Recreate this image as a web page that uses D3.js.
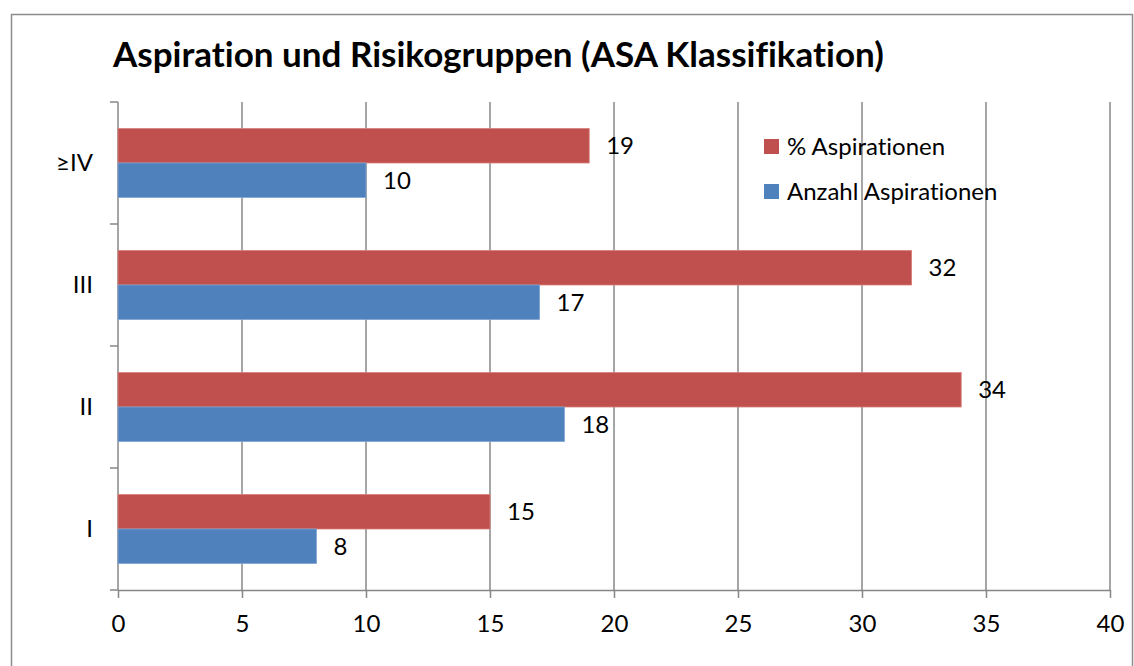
<!DOCTYPE html>
<html>
<head>
<meta charset="utf-8">
<script src="https://cdn.jsdelivr.net/npm/d3@7"></script>
<style>
  body { margin: 0; background: #fff; }
  svg { display: block; font-family: Lato, "Open Sans", sans-serif; font-variant-ligatures: none; }
</style>
</head>
<body>
<svg id="chart" width="1134" height="666"></svg>
<script>
// data, bottom to top as in the picture
const categories = ["I", "II", "III", "≥IV"];
const pctValues = [15, 34, 32, 19];   // % Aspirationen
const countValues = [8, 18, 17, 10];  // Anzahl Aspirationen
const seriesNames = ["% Aspirationen", "Anzahl Aspirationen"];
const xTicks = [0, 5, 10, 15, 20, 25, 30, 35, 40];

const colors = { "% Aspirationen": "#C0504D", "Anzahl Aspirationen": "#4F81BD" };
const edge = { "% Aspirationen": "#d87e7b", "Anzahl Aspirationen": "#7ea3d1" };
const gridColor = "#878787";
const fontSize = 24;

const svg = d3.select("#chart");
const plot = { left: 118, right: 1110, top: 102, bottom: 590 };

// chart border
svg.append("rect")
  .attr("x", 11.5).attr("y", 14.5)
  .attr("width", 1121).attr("height", 700)
  .attr("fill", "none").attr("stroke", "#8c8c8c").attr("stroke-width", 1.5);

svg.append("text")
  .attr("x", 113).attr("y", 67)
  .attr("font-size", 35).attr("font-weight", "bold")
  .attr("fill", "#000")
  .text("Aspiration und Risikogruppen (ASA Klassifikation)");

const x = d3.scaleLinear().domain([0, 40]).range([plot.left, plot.right]);
// categories from top: reverse
const y = d3.scaleBand().domain(categories.slice().reverse())
  .range([plot.top, plot.bottom]).padding(0);
const ySub = d3.scaleBand().domain(seriesNames)
  .range([0, y.bandwidth()]).paddingInner(0).paddingOuter(0.77);

// vertical grid lines
svg.append("g").selectAll("line")
  .data(xTicks.filter(d => d > 0))
  .join("line")
  .attr("x1", d => x(d)).attr("x2", d => x(d))
  .attr("y1", plot.top).attr("y2", plot.bottom)
  .attr("stroke", gridColor).attr("stroke-width", 1.5);

// bottom axis
const xAxis = svg.append("g")
  .attr("transform", `translate(0,${plot.bottom})`)
  .call(d3.axisBottom(x).tickValues(xTicks).tickSize(8).tickPadding(17).tickSizeOuter(0));
xAxis.select(".domain").attr("stroke", gridColor).attr("stroke-width", 1.5);
xAxis.selectAll(".tick line").attr("stroke", gridColor).attr("stroke-width", 1.5);
xAxis.selectAll("text").attr("font-size", fontSize).attr("fill", "#000")
  .attr("font-family", "Lato, 'Open Sans', sans-serif");

// left axis line + ticks at band boundaries
const boundaries = d3.range(categories.length + 1).map(i => plot.top + i * y.step());
svg.append("line")
  .attr("x1", plot.left).attr("x2", plot.left)
  .attr("y1", plot.top).attr("y2", plot.bottom)
  .attr("stroke", gridColor).attr("stroke-width", 1.5);
svg.append("g").selectAll("line")
  .data(boundaries)
  .join("line")
  .attr("x1", plot.left - 8).attr("x2", plot.left)
  .attr("y1", d => d).attr("y2", d => d)
  .attr("stroke", gridColor).attr("stroke-width", 1.5);

svg.append("g").selectAll("text")
  .data(categories)
  .join("text")
  .attr("x", 93)
  .attr("y", d => y(d) + y.bandwidth() / 2)
  .attr("dy", "0.35em")
  .attr("text-anchor", "end")
  .attr("font-size", fontSize)
  .text(d => d);

// bars
const rows = categories.map((c, i) => ({
  cat: c,
  values: [
    { key: seriesNames[0], value: pctValues[i] },
    { key: seriesNames[1], value: countValues[i] }
  ]
}));

const group = svg.append("g").selectAll("g")
  .data(rows)
  .join("g")
  .attr("transform", d => `translate(0,${y(d.cat)})`);

group.selectAll("rect")
  .data(d => d.values)
  .join("rect")
  .attr("x", x(0))
  .attr("y", d => ySub(d.key))
  .attr("width", d => x(d.value) - x(0))
  .attr("height", ySub.bandwidth())
  .attr("fill", d => colors[d.key])
  .attr("stroke", d => edge[d.key])
  .attr("stroke-width", 0.8);

group.selectAll("text")
  .data(d => d.values)
  .join("text")
  .attr("x", d => x(d.value) + 17)
  .attr("y", d => ySub(d.key) + ySub.bandwidth() / 2)
  .attr("dy", "0.35em")
  .attr("font-size", fontSize)
  .text(d => d.value);

// legend
const legend = svg.append("g").selectAll("g")
  .data(seriesNames)
  .join("g")
  .attr("transform", (d, i) => `translate(764,${139 + i * 45})`);
legend.append("rect")
  .attr("width", 15).attr("height", 15)
  .attr("fill", d => colors[d]);
legend.append("text")
  .attr("x", 23).attr("y", 7.5)
  .attr("dy", "0.35em")
  .attr("font-size", fontSize)
  .text(d => d);
</script>
</body>
</html>
